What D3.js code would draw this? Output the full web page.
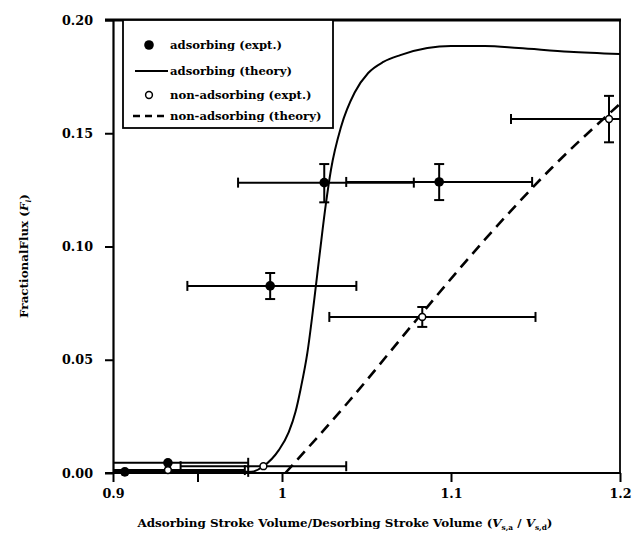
<!DOCTYPE html>
<html>
<head>
<meta charset="utf-8">
<script src="https://cdn.jsdelivr.net/npm/d3@7"></script>
<style>
  html, body { margin: 0; padding: 0; background: #fff; }
  svg { display: block; }
  svg text { font-family: "DejaVu Serif", "Liberation Serif", serif !important; font-weight: bold; fill: #000; }
</style>
</head>
<body>
<script>
// Adsorbing species, measured fractional flux with x/y uncertainty
const adsX    = [0.907, 0.9325, 0.993, 1.025, 1.093];
const adsY    = [0.0005, 0.0045, 0.0826, 0.1282, 0.1285];
const adsXlo  = [0.880, 0.880, 0.944, 0.974, 1.038];
const adsXhi  = [0.980, 0.980, 1.044, 1.078, 1.148];
const adsYlo  = [0.0005, 0.0045, 0.0768, 0.1195, 0.1205];
const adsYhi  = [0.0005, 0.0045, 0.0883, 0.1364, 0.1364];

// Non-adsorbing species, measured
const nonX    = [0.9325, 0.989, 1.083, 1.1935];
const nonY    = [0.0013, 0.0030, 0.0689, 0.1563];
const nonXlo  = [0.880, 0.940, 1.028, 1.1355];
const nonXhi  = [0.978, 1.038, 1.150, 1.260];
const nonYlo  = [0.0013, 0.0030, 0.0645, 0.1460];
const nonYhi  = [0.0013, 0.0030, 0.0733, 0.1665];

// Model predictions
const adsTheoryX = [0.970, 0.982, 0.989, 0.998, 1.004, 1.008, 1.011, 1.015, 1.019, 1.0225, 1.026, 1.029, 1.035, 1.043, 1.051, 1.060, 1.070, 1.086, 1.100, 1.120, 1.140, 1.170, 1.200];
const adsTheoryY = [0.0, 0.0005, 0.003, 0.010, 0.018, 0.027, 0.037, 0.053, 0.076, 0.098, 0.119, 0.134, 0.153, 0.168, 0.1766, 0.1815, 0.1845, 0.1876, 0.1885, 0.1885, 0.1876, 0.186, 0.185];
const nonTheoryX = [1.002, 1.04, 1.08, 1.12, 1.16, 1.20];
const nonTheoryY = [0.0, 0.032, 0.068, 0.103, 0.135, 0.163];

// Axis ticks
const xTickValues = [0.9, 0.95, 1.0, 1.1, 1.2];
const xTickLabels = ["0.9", "", "1", "1.1", "1.2"];
const yTickValues = [0.0, 0.05, 0.10, 0.15, 0.20];
const yTickLabels = ["0.00", "0.05", "0.10", "0.15", "0.20"];

const legendLabels = ["adsorbing (expt.)", "adsorbing (theory)", "non-adsorbing (expt.)", "non-adsorbing (theory)"];

const W = 634, H = 557;
const margin = { left: 113, right: 14, top: 20, bottom: 84 };
const x = d3.scaleLinear().domain([0.9, 1.2]).range([margin.left, W - margin.right]);
const y = d3.scaleLinear().domain([0, 0.2]).range([H - margin.bottom, margin.top]);

const svg = d3.select("body").append("svg").attr("width", W).attr("height", H);

// Scale a text element's font so that it spans the given width
function fitWidth(sel, width) {
  const base = parseFloat(sel.attr("font-size"));
  const w = sel.node().getComputedTextLength();
  if (w > 0) sel.attr("font-size", (base * width / w).toFixed(2));
  return sel;
}

svg.append("clipPath").attr("id", "plot-clip")
  .append("rect")
  .attr("x", x(0.9)).attr("y", y(0.2) - 2)
  .attr("width", x(1.2) - x(0.9)).attr("height", y(0) - y(0.2) + 6);

// Frame: heavy top rule and right edge
svg.append("line").attr("x1", x(0.9) - 8).attr("x2", x(1.2) + 1)
  .attr("y1", y(0.2)).attr("y2", y(0.2))
  .attr("stroke", "#000").attr("stroke-width", 3);
svg.append("line").attr("x1", x(1.2)).attr("x2", x(1.2))
  .attr("y1", y(0.2)).attr("y2", y(0))
  .attr("stroke", "#000").attr("stroke-width", 1.8);

// Axes
const xAxis = svg.append("g").attr("transform", `translate(0,${y(0)})`)
  .call(d3.axisBottom(x).tickValues(xTickValues)
    .tickFormat((d, i) => xTickLabels[i]).tickSize(9).tickSizeOuter(0).tickPadding(7));
const yAxis = svg.append("g").attr("transform", `translate(${x(0.9)},0)`)
  .call(d3.axisLeft(y).tickValues(yTickValues)
    .tickFormat((d, i) => yTickLabels[i]).tickSize(8).tickSizeOuter(0).tickPadding(12));
[xAxis, yAxis].forEach(g => {
  g.attr("font-family", null).attr("font-size", null);
  g.select(".domain").attr("stroke-width", 2.2);
  g.selectAll(".tick line").attr("stroke-width", 2);
  g.selectAll("text").attr("font-size", 14);
});
xAxis.select(".domain").attr("d", `M${x(0.9) - 8},0H${x(1.2) + 1}`);
// size tick labels from the width of "0.00"
const tickSize = parseFloat(fitWidth(yAxis.select(".tick text"), 31).attr("font-size"));
svg.selectAll(".tick text").attr("font-size", tickSize);

const plot = svg.append("g").attr("clip-path", "url(#plot-clip)");

// Theory curves
const line = d3.line().x(d => x(d[0])).y(d => y(d[1])).curve(d3.curveMonotoneX);
plot.append("path")
  .datum(adsTheoryX.map((v, i) => [v, adsTheoryY[i]]))
  .attr("d", line).attr("fill", "none").attr("stroke", "#000").attr("stroke-width", 2);
plot.append("path")
  .datum(nonTheoryX.map((v, i) => [v, nonTheoryY[i]]))
  .attr("d", line).attr("fill", "none").attr("stroke", "#000")
  .attr("stroke-width", 2.6).attr("stroke-dasharray", "11,7");

// Error bars
function errorBars(xs, ys, xlo, xhi, ylo, yhi) {
  const g = plot.append("g").attr("stroke", "#000").attr("fill", "none");
  xs.forEach((xv, i) => {
    const cy = y(ys[i]);
    g.append("line").attr("x1", x(xlo[i])).attr("x2", x(xhi[i]))
      .attr("y1", cy).attr("y2", cy).attr("stroke-width", 2);
    [xlo[i], xhi[i]].forEach(e => {
      g.append("line").attr("x1", x(e)).attr("x2", x(e))
        .attr("y1", cy - 5).attr("y2", cy + 5).attr("stroke-width", 2);
    });
    if (yhi[i] > ylo[i]) {
      g.append("line").attr("x1", x(xv)).attr("x2", x(xv))
        .attr("y1", y(yhi[i])).attr("y2", y(ylo[i])).attr("stroke-width", 2);
      [ylo[i], yhi[i]].forEach(e => {
        g.append("line").attr("x1", x(xv) - 5).attr("x2", x(xv) + 5)
          .attr("y1", y(e)).attr("y2", y(e)).attr("stroke-width", 2);
      });
    }
  });
}
errorBars(adsX, adsY, adsXlo, adsXhi, adsYlo, adsYhi);
errorBars(nonX, nonY, nonXlo, nonXhi, nonYlo, nonYhi);

// Measured points
svg.append("g").selectAll("circle").data(adsX).join("circle")
  .attr("cx", d => x(d)).attr("cy", (d, i) => y(adsY[i])).attr("r", 4.8).attr("fill", "#000");
svg.append("g").selectAll("circle").data(nonX).join("circle")
  .attr("cx", d => x(d)).attr("cy", (d, i) => y(nonY[i])).attr("r", 3.4)
  .attr("fill", "#fff").attr("stroke", "#000").attr("stroke-width", 1.5);

// Legend
const lg = svg.append("g");
lg.append("rect").attr("x", 123).attr("y", 20).attr("width", 210).attr("height", 108)
  .attr("fill", "#fff").attr("stroke", "#000").attr("stroke-width", 1.8);
const rowY = [45, 71, 95, 116];
lg.append("circle").attr("cx", 149).attr("cy", rowY[0]).attr("r", 4.8).attr("fill", "#000");
lg.append("line").attr("x1", 135).attr("x2", 168).attr("y1", rowY[1]).attr("y2", rowY[1])
  .attr("stroke", "#000").attr("stroke-width", 1.8);
lg.append("circle").attr("cx", 149).attr("cy", rowY[2]).attr("r", 3.4)
  .attr("fill", "#fff").attr("stroke", "#000").attr("stroke-width", 1.5);
lg.append("line").attr("x1", 133).attr("x2", 168).attr("y1", rowY[3]).attr("y2", rowY[3])
  .attr("stroke", "#000").attr("stroke-width", 2.4).attr("stroke-dasharray", "7,5");
const lgText = lg.selectAll("text").data(legendLabels).join("text")
  .attr("x", 170).attr("y", (d, i) => rowY[i]).attr("dy", "0.33em")
  .attr("font-size", 13).text(d => d);
const lgSize = parseFloat(fitWidth(d3.select(lgText.nodes()[0]), 112).attr("font-size"));
lgText.attr("font-size", lgSize);

// Axis titles
const xt = svg.append("text").attr("x", 345).attr("y", 527).attr("text-anchor", "middle").attr("font-size", 13);
xt.append("tspan").text("Adsorbing Stroke Volume/Desorbing Stroke Volume (");
xt.append("tspan").attr("font-style", "italic").text("V");
xt.append("tspan").attr("font-size", "0.62em").attr("dy", 3).text("s,a");
xt.append("tspan").attr("dy", -3).text(" / ");
xt.append("tspan").attr("font-style", "italic").text("V");
xt.append("tspan").attr("font-size", "0.62em").attr("dy", 3).text("s,d");
xt.append("tspan").attr("dy", -3).text(")");
fitWidth(xt, 415);

const yt = svg.append("text").attr("transform", "translate(28,256) rotate(-90)")
  .attr("text-anchor", "middle").attr("font-size", xt.attr("font-size"));
yt.append("tspan").text("FractionalFlux (");
yt.append("tspan").attr("font-style", "italic").text("F");
yt.append("tspan").attr("font-size", "0.62em").attr("dy", 3).attr("font-style", "italic").text("i");
yt.append("tspan").attr("dy", -3).text(")");
</script>
</body>
</html>
